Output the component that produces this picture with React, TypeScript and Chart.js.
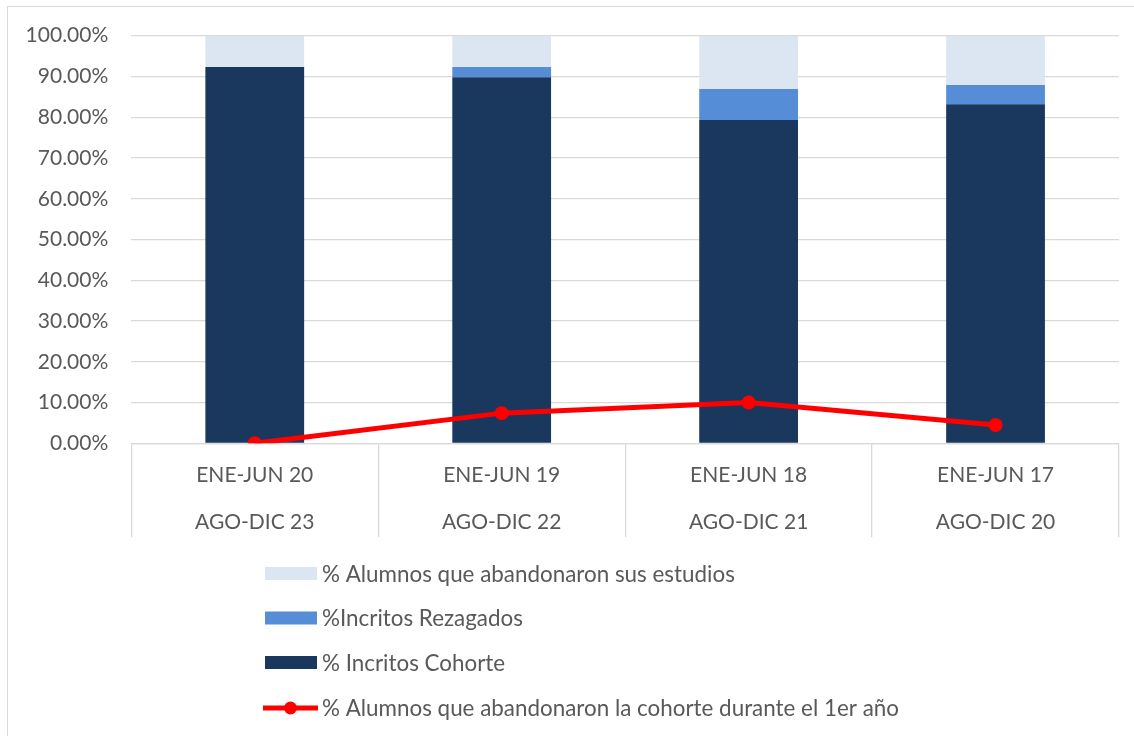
import React, { useEffect, useRef } from "react";
import { Chart, registerables } from "chart.js";

Chart.register(...registerables);

const categories: string[][] = [
  ["ENE-JUN 20", "AGO-DIC 23"],
  ["ENE-JUN 19", "AGO-DIC 22"],
  ["ENE-JUN 18", "AGO-DIC 21"],
  ["ENE-JUN 17", "AGO-DIC 20"],
];
const cohorte: number[] = [92.3, 89.8, 79.3, 83.2];
const rezagados: number[] = [0, 2.5, 7.6, 4.7];
const abandonaronEstudios: number[] = [7.7, 7.7, 13.1, 12.1];
const abandonaronPrimerAnio: number[] = [0, 7.4, 10.0, 4.5];

const LABEL_ABANDONO = "% Alumnos que abandonaron sus estudios";
const LABEL_REZAGADOS = "%Incritos Rezagados";
const LABEL_COHORTE = "% Incritos Cohorte";
const LABEL_LINEA = "% Alumnos que abandonaron la cohorte durante el 1er año";

const FONT = "Lato";
const TEXT = "#595959";
const GRID = "#d9d9d9";

const legendPlugin = {
  id: "verticalLegend",
  afterDraw(chart: any) {
    const ctx = chart.ctx;
    const ds = chart.data.datasets;
    const order = [2, 1, 0, 3];
    const rows = [566.5, 611, 655.5, 701];
    ctx.save();
    ctx.font = `22.4px ${FONT}`;
    ctx.textBaseline = "middle";
    ctx.textAlign = "left";
    order.forEach((idx, i) => {
      const d = ds[idx];
      const y = rows[i];
      if (d.type === "line") {
        ctx.strokeStyle = d.borderColor;
        ctx.lineWidth = 5;
        ctx.beginPath();
        ctx.moveTo(255, y);
        ctx.lineTo(310, y);
        ctx.stroke();
        ctx.fillStyle = d.borderColor;
        ctx.beginPath();
        ctx.arc(282.5, y, 6.5, 0, Math.PI * 2);
        ctx.fill();
      } else {
        ctx.fillStyle = d.backgroundColor;
        ctx.fillRect(257, y - 6.5, 52, 13);
      }
      ctx.fillStyle = TEXT;
      ctx.fillText(d.label, 314, y + 1);
    });
    ctx.restore();
  },
};

export default function App() {
  const ref = useRef<HTMLCanvasElement>(null);
  useEffect(() => {
    if (!ref.current) return;
    const chart = new Chart(ref.current, {
      type: "bar",
      data: {
        labels: categories,
        datasets: [
          {
            type: "bar",
            label: LABEL_COHORTE,
            data: cohorte,
            backgroundColor: "#1a375d",
            stack: "bars",
            order: 1,
            barPercentage: 0.4,
            categoryPercentage: 1,
          },
          {
            type: "bar",
            label: LABEL_REZAGADOS,
            data: rezagados,
            backgroundColor: "#558ed6",
            stack: "bars",
            order: 1,
            barPercentage: 0.4,
            categoryPercentage: 1,
          },
          {
            type: "bar",
            label: LABEL_ABANDONO,
            data: abandonaronEstudios,
            backgroundColor: "#dce6f2",
            stack: "bars",
            order: 1,
            barPercentage: 0.4,
            categoryPercentage: 1,
          },
          {
            type: "line",
            label: LABEL_LINEA,
            data: abandonaronPrimerAnio,
            borderColor: "#ff0000",
            backgroundColor: "#ff0000",
            borderWidth: 5,
            pointRadius: 7,
            pointBackgroundColor: "#ff0000",
            pointBorderWidth: 0,
            stack: "line",
            order: 0,
          } as any,
        ],
      },
      options: {
        animation: false,
        responsive: false,
        layout: { padding: { top: 28.7, right: 15, bottom: 192.7, left: 0 } },
        plugins: {
          legend: { display: false },
          tooltip: { enabled: false },
        },
        scales: {
          x: {
            stacked: true,
            grid: {
              display: true,
              drawOnChartArea: false,
              drawTicks: true,
              tickLength: 94,
              color: GRID,
              lineWidth: 1.3,
            },
            border: { display: true, color: GRID, width: 1.3 },
            ticks: {
              color: TEXT,
              font: { family: FONT, size: 21, lineHeight: 47 / 21 },
              padding: -85.5,
              maxRotation: 0,
              autoSkip: false,
            },
            afterFit(scale: any) {
              scale.height = 100;
            },
          },
          y: {
            stacked: true,
            min: 0,
            max: 100,
            grid: {
              color: GRID,
              lineWidth: 1.3,
              drawTicks: true,
              tickLength: 23,
              tickColor: "rgba(0,0,0,0)",
            },
            border: { display: false },
            ticks: {
              stepSize: 10,
              color: TEXT,
              padding: 0,
              font: { family: FONT, size: 21 },
              callback: (v: any) => Number(v).toFixed(2) + "%",
            },
            afterFit(scale: any) {
              scale.width = 123.3;
            },
          },
        },
      },
      plugins: [legendPlugin],
    });
    return () => chart.destroy();
  }, []);

  return (
    <div
      style={{
        position: "fixed",
        left: 7,
        top: 6,
        width: 1140,
        height: 740,
        border: "1px solid #d9d9d9",
        background: "#fff",
      }}
    >
      <canvas
        ref={ref}
        width={1126}
        height={729}
        style={{ display: "block", width: 1126, height: 729 }}
      />
    </div>
  );
}
